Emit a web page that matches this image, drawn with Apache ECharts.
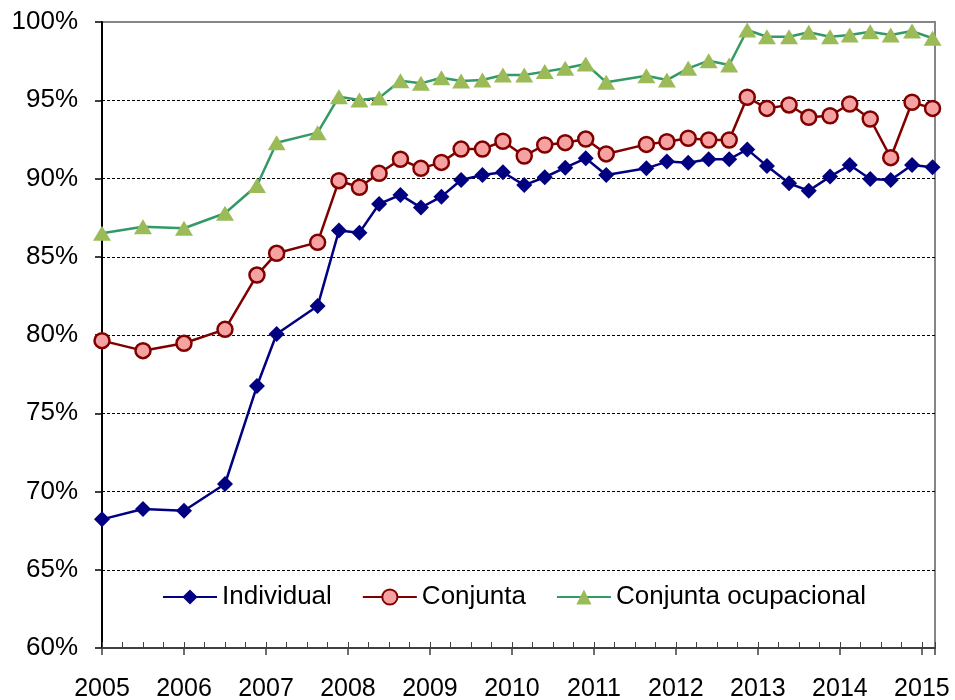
<!doctype html>
<html>
<head>
<meta charset="utf-8">
<title>Individual / Conjunta / Conjunta ocupacional</title>
<script src="https://cdn.jsdelivr.net/npm/echarts@6/dist/echarts.min.js"></script>
<style>
  html, body { margin: 0; padding: 0; background: #fff; }
  #chartmain { width: 955px; height: 700px; }
</style>
</head>
<body>
<div id="chartmain"></div>
<script type="text/javascript">
// fechas en años decimales
var fechas = [2005.0, 2005.5, 2006.0, 2006.5, 2006.89, 2007.13, 2007.63, 2007.89, 2008.14, 2008.38,
              2008.64, 2008.89, 2009.14, 2009.38, 2009.64, 2009.89, 2010.15, 2010.40, 2010.65, 2010.90,
              2011.15, 2011.64, 2011.89, 2012.15, 2012.40, 2012.65, 2012.87, 2013.11, 2013.38, 2013.62,
              2013.88, 2014.12, 2014.37, 2014.62, 2014.88, 2015.13];

var individual = [68.22, 68.88, 68.77, 70.48, 76.74, 80.06, 81.85, 86.67, 86.54, 88.37,
                  88.95, 88.14, 88.84, 89.90, 90.22, 90.40, 89.58, 90.08, 90.69, 91.29,
                  90.22, 90.65, 91.08, 91.00, 91.23, 91.23, 91.86, 90.80, 89.69, 89.22,
                  90.12, 90.86, 89.97, 89.90, 90.86, 90.72];

var conjunta = [79.64, 79.00, 79.47, 80.36, 83.83, 85.22, 85.92, 89.86, 89.44, 90.33,
                91.23, 90.65, 91.03, 91.88, 91.88, 92.38, 91.44, 92.14, 92.29, 92.52,
                91.57, 92.18, 92.35, 92.57, 92.46, 92.46, 95.19, 94.48, 94.70, 93.91,
                94.01, 94.76, 93.80, 91.33, 94.87, 94.48];

var ocupacional = [86.50, 86.92, 86.82, 87.78, 89.55, 92.29, 92.93, 95.23, 95.02, 95.15,
                   96.25, 96.08, 96.44, 96.23, 96.29, 96.61, 96.61, 96.83, 97.04, 97.32,
                   96.15, 96.57, 96.29, 97.04, 97.53, 97.25, 99.49, 99.06, 99.06, 99.34,
                   99.06, 99.17, 99.38, 99.17, 99.42, 98.96];

var nombres = ['Individual', 'Conjunta', 'Conjunta ocupacional'];

function pares(vals) {
    var out = [];
    for (var i = 0; i < fechas.length; i++) {
        out.push([fechas[i], vals[i]]);
    }
    return out;
}

var fuente = 'Arial, "Liberation Sans", sans-serif';
var xMax = 2015.16;

var option = {
    animation: false,
    backgroundColor: '#fff',
    grid: {
        left: 102, right: 20, top: 22, bottom: 52,
        outerBoundsMode: 'none',
        show: true,
        borderColor: '#868686',
        borderWidth: 2
    },
    legend: {
        left: 157,
        top: 579,
        itemWidth: 54,
        itemHeight: 19,
        itemGap: 30,
        textStyle: { fontFamily: fuente, fontSize: 26, color: '#000' },
        data: nombres
    },
    xAxis: [
        {
            type: 'value',
            min: 2005,
            max: xMax,
            interval: 1,
            position: 'bottom',
            axisLine: { show: true, lineStyle: { color: '#404040', width: 2 } },
            axisTick: { show: true, inside: false, length: 7, lineStyle: { color: '#404040', width: 1.5 } },
            axisLabel: {
                margin: 29,
                fontFamily: fuente,
                fontSize: 25,
                color: '#000',
                formatter: function (v) { return v % 1 === 0 ? String(v) : ''; }
            },
            splitLine: { show: false }
        },
        {
            // marcas trimestrales hacia dentro
            type: 'value',
            min: 2005,
            max: xMax,
            interval: 0.25,
            position: 'bottom',
            axisLine: { show: false },
            axisTick: { show: true, inside: true, length: 6, lineStyle: { color: '#404040', width: 1 } },
            axisLabel: { show: false },
            splitLine: { show: false }
        }
    ],
    yAxis: {
        type: 'value',
        min: 60,
        max: 100,
        interval: 5,
        axisLine: { show: true, lineStyle: { color: '#000', width: 2 } },
        axisTick: { show: true, inside: false, length: 7, lineStyle: { color: '#000', width: 1.5 } },
        axisLabel: {
            margin: 24,
            fontFamily: fuente,
            fontSize: 26,
            color: '#000',
            formatter: '{value}%'
        },
        splitLine: {
            show: true,
            showMinLine: false,
            showMaxLine: false,
            lineStyle: { color: '#000', width: 1, type: [3, 2] }
        }
    },
    series: [
        {
            name: nombres[0],
            type: 'line',
            xAxisIndex: 0,
            data: pares(individual),
            symbol: 'diamond',
            symbolSize: 16,
            lineStyle: { color: '#000080', width: 2.5 },
            itemStyle: { color: '#000080', borderColor: '#000080', borderWidth: 0 },
            z: 3
        },
        {
            name: nombres[1],
            type: 'line',
            xAxisIndex: 0,
            data: pares(conjunta),
            symbol: 'circle',
            symbolSize: 15,
            lineStyle: { color: '#800000', width: 2.5 },
            itemStyle: { color: '#f7a2a2', borderColor: '#800000', borderWidth: 2.5 },
            z: 4
        },
        {
            name: nombres[2],
            type: 'line',
            xAxisIndex: 0,
            data: pares(ocupacional),
            symbol: 'triangle',
            symbolSize: [18, 15],
            lineStyle: { color: '#339966', width: 2.5 },
            itemStyle: { color: '#9bbb59', borderWidth: 0 },
            z: 5
        }
    ]
};

var myChart = echarts.init(document.getElementById('chartmain'));
myChart.setOption(option);
</script>
</body>
</html>
